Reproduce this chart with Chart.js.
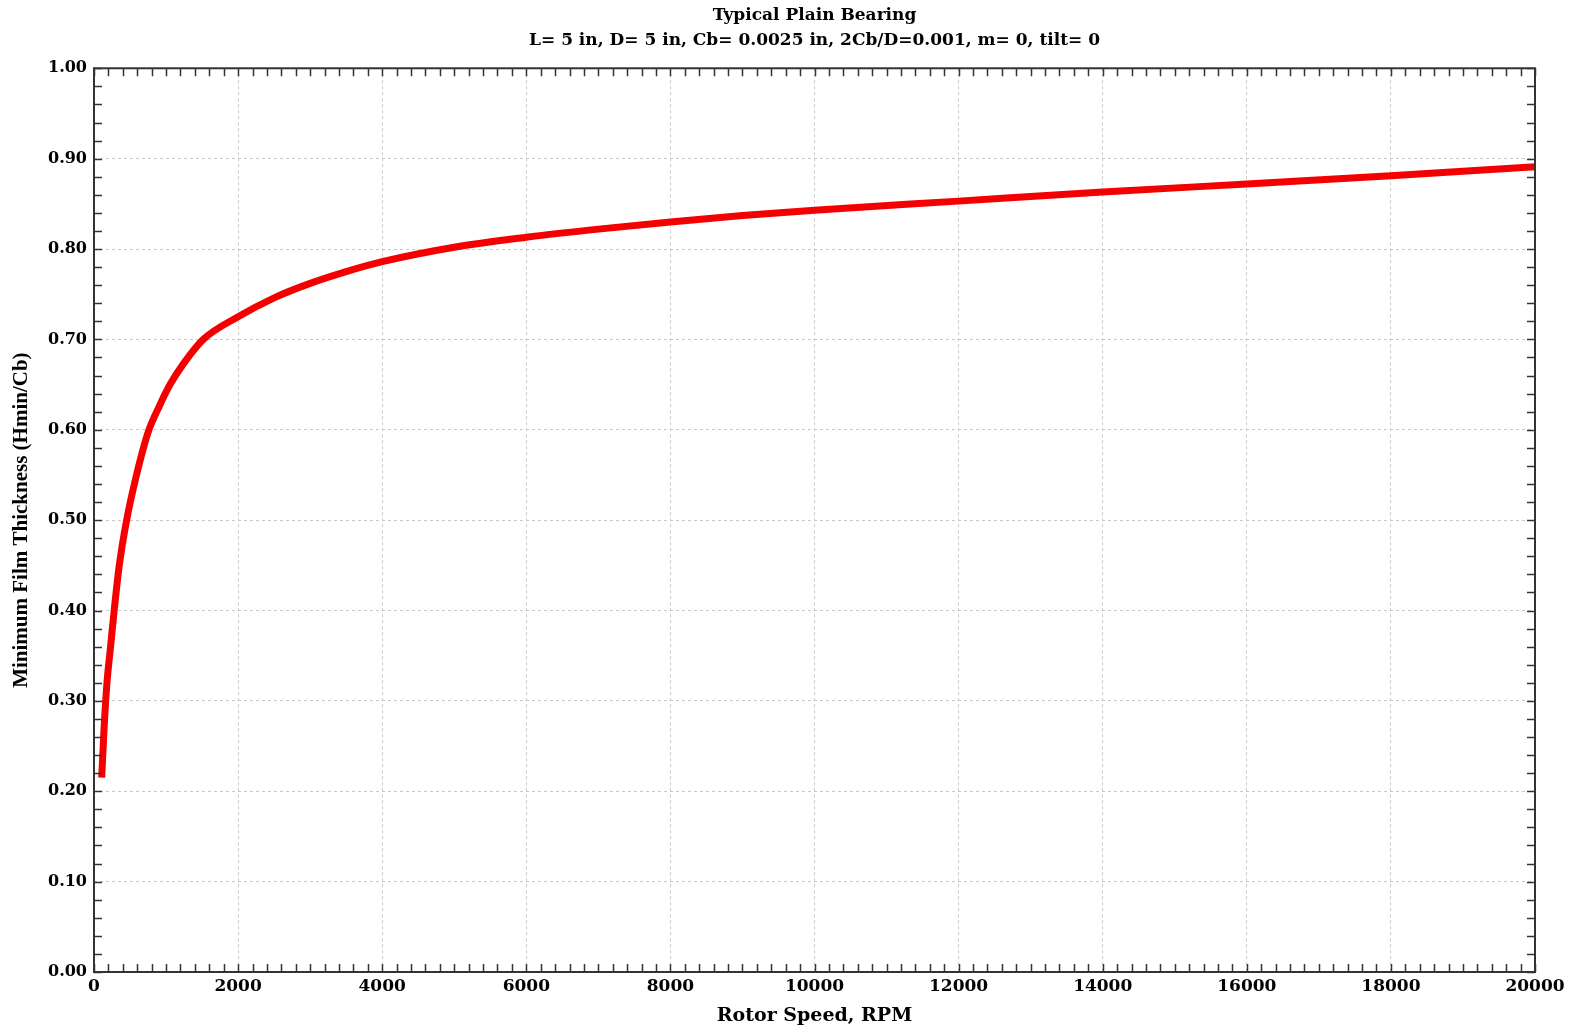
<!DOCTYPE html>
<html>
<head>
<meta charset="utf-8">
<script src="https://cdn.jsdelivr.net/npm/chart.js@4"></script>
<style>
  html, body { margin: 0; padding: 0; background: #fff; }
  #wrap { width: 1575px; height: 1036px; position: relative; }
</style>
</head>
<body>
<div id="wrap"><canvas id="bearing"></canvas></div>
<script>
// values
rpm = [107, 140, 180, 230, 280, 351, 453, 590, 754, 900, 1055, 1250, 1517, 2000, 2500, 3000, 3500, 4000, 5000, 6000, 7000, 8000, 9000, 10000, 12000, 14000, 16000, 18000, 20000];
hmin = [0.215, 0.27, 0.32, 0.36, 0.40, 0.45, 0.50, 0.55, 0.598, 0.625, 0.65, 0.674, 0.70, 0.725, 0.746, 0.762, 0.775, 0.786, 0.802, 0.813, 0.822, 0.830, 0.837, 0.843, 0.853, 0.863, 0.872, 0.881, 0.891];

titleLines = ['Typical Plain Bearing', 'L= 5 in, D= 5 in, Cb= 0.0025 in, 2Cb/D=0.001, m= 0, tilt= 0'];
xTitle = 'Rotor Speed, RPM';
yTitle = 'Minimum Film Thickness (Hmin/Cb)';

var points = [];
for (let i = 0; i < rpm.length; i++) {
  points.push({x: rpm[i], y: hmin[i]});
}

var wide = "'DejaVu Serif', 'Liberation Serif', serif";
var serif = "'Liberation Serif', 'DejaVu Serif', serif";

// frame + minor ticks on all four sides, drawn inside
var frameTicks = {
  id: 'frameTicks',
  afterDatasetsDraw(chart) {
    const ctx = chart.ctx;
    const a = chart.chartArea;
    const xs = chart.scales.x, ys = chart.scales.y;
    ctx.save();
    ctx.strokeStyle = '#333';
    ctx.lineWidth = 1.5;
    ctx.beginPath();
    for (let v = 0; v <= 20000; v += 200) {
      const px = Math.round(xs.getPixelForValue(v)) + 0.5;
      ctx.moveTo(px, a.bottom); ctx.lineTo(px, a.bottom - 8);
      ctx.moveTo(px, a.top); ctx.lineTo(px, a.top + 8);
    }
    for (let k = 0; k <= 50; k++) {
      const py = Math.round(ys.getPixelForValue(k * 0.02)) + 0.5;
      ctx.moveTo(a.left, py); ctx.lineTo(a.left + 8, py);
      ctx.moveTo(a.right, py); ctx.lineTo(a.right - 8, py);
    }
    ctx.stroke();
    ctx.lineWidth = 2;
    ctx.strokeRect(a.left, a.top, a.right - a.left, a.bottom - a.top);
    ctx.restore();
  }
};

var ctx = document.getElementById('bearing').getContext('2d');
var bearingChart = new Chart(ctx, {
  type: 'line',
  data: {
    datasets: [{
      label: 'Hmin/Cb',
      data: points,
      borderColor: 'rgb(245, 0, 0)',
      borderWidth: 7,
      pointRadius: 0,
      cubicInterpolationMode: 'monotone',
      fill: false
    }]
  },
  options: {
    responsive: true,
    maintainAspectRatio: false,
    animation: false,
    layout: { padding: { left: 0, right: 40, top: 0, bottom: 0 } },
    plugins: {
      legend: { display: false },
      tooltip: { enabled: false },
      title: {
        display: true,
        fullSize: false,
        text: titleLines,
        color: '#000',
        font: { family: wide, size: 17, weight: 'bold', lineHeight: 1.42 },
        padding: { top: 4, bottom: 16 }
      }
    },
    scales: {
      x: {
        type: 'linear',
        min: 0,
        max: 20000,
        afterFit(scale) { scale.height = 64; },
        ticks: {
          stepSize: 2000,
          color: '#000',
          padding: 4,
          maxRotation: 0,
          font: { family: wide, size: 17, weight: 'bold' },
          callback: function (v) { return String(v); }
        },
        grid: { color: '#c8c8c8', lineWidth: 1, drawTicks: false },
        border: { display: false, dash: [3, 3] },
        title: {
          display: true,
          text: xTitle,
          color: '#000',
          font: { family: wide, size: 19, weight: 'bold' },
          padding: { top: 0, bottom: 9 }
        }
      },
      y: {
        type: 'linear',
        min: 0,
        max: 1,
        afterFit(scale) { scale.width = 94; },
        ticks: {
          stepSize: 0.1,
          color: '#000',
          padding: 7,
          font: { family: wide, size: 16, weight: 'bold' },
          callback: function (v) { return v.toFixed(2); }
        },
        grid: { color: '#c8c8c8', lineWidth: 1, drawTicks: false },
        border: { display: false, dash: [3, 3] },
        title: {
          display: true,
          text: yTitle,
          color: '#000',
          font: { family: serif, size: 21, weight: 'bold' },
          padding: { top: 9, bottom: 0 }
        }
      }
    }
  },
  plugins: [frameTicks]
});
</script>
</body>
</html>
